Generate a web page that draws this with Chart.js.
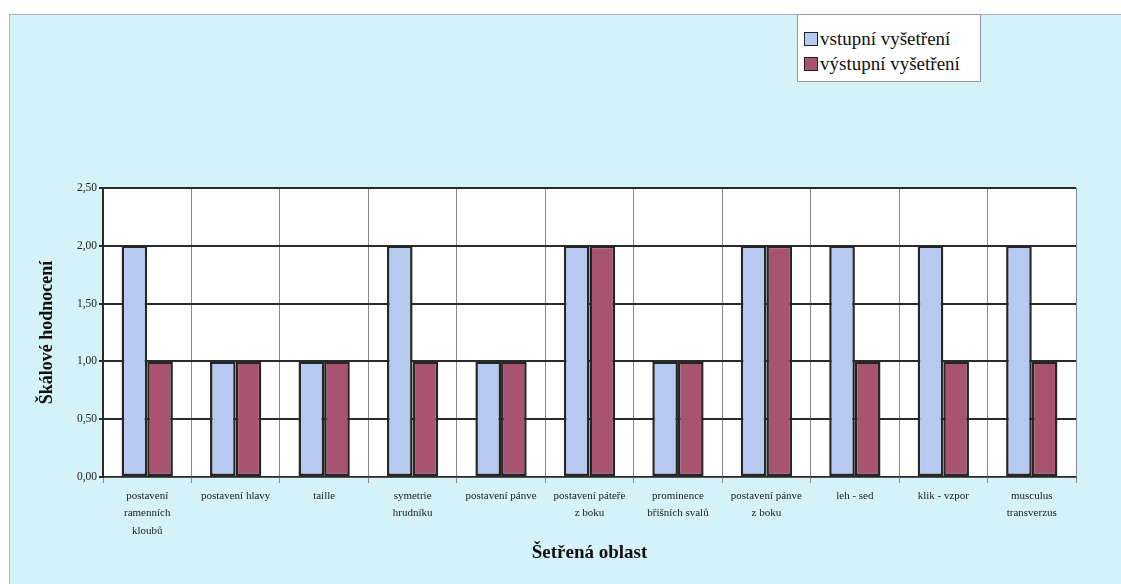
<!DOCTYPE html>
<html lang="cs">

<head>
  <meta charset="UTF-8">
  <title>Škálové hodnocení</title>
  <style>
    body {
      margin: 0;
      background: #fff;
      font-family: "Liberation Serif", serif;
    }

    #frame {
      position: absolute;
      left: 9px;
      top: 14px;
      width: 1112px;
      height: 570px;
      background: #d4f2f8;
      border-top: 1px solid #a9b4b8;
      border-left: 1px solid #a9b4b8;
    }

    #chart-box {
      position: absolute;
      left: 0;
      top: 0;
      width: 1112px;
      height: 570px;
    }

    #legend {
      position: absolute;
      left: 787px;
      top: -1px;
      width: 176px;
      padding: 11px 0 5px 6px;
      background: #fff;
      border: 1px solid #999;
      font-size: 19px;
      color: #111;
    }

    #legend div {
      height: 25px;
      line-height: 25px;
      white-space: nowrap;
    }

    #legend span {
      display: inline-block;
      width: 12px;
      height: 12px;
      border: 1px solid #222;
      margin-right: 2px;
      vertical-align: -1px;
    }
  </style>
</head>

<body>
  <div id="frame">
    <div id="chart-box">
      <canvas id="scoreChart"></canvas>
    </div>
    <div id="legend"></div>
  </div>

  <script src="https://cdn.jsdelivr.net/npm/chart.js@4.4.1/dist/chart.umd.min.js"></script>
  <script>
    const areas = [
      ['postavení', 'ramenních', 'kloubů'],
      'postavení hlavy',
      'taille',
      ['symetrie', 'hrudníku'],
      'postavení pánve',
      ['postavení páteře', 'z boku'],
      ['prominence', 'břišních svalů'],
      ['postavení pánve', 'z boku'],
      'leh - sed',
      'klik - vzpor',
      ['musculus', 'transverzus']
    ];
    const entryScores = [2, 1, 1, 2, 1, 2, 1, 2, 2, 2, 2];
    const exitScores = [1, 1, 1, 1, 1, 2, 1, 2, 1, 1, 1];
    const seriesNames = ['vstupní vyšetření', 'výstupní vyšetření'];
    const yTicks = [0, 0.5, 1, 1.5, 2, 2.5];

    const serif = '"Liberation Serif", "Times New Roman", serif';

    const ctx = document.getElementById('scoreChart').getContext('2d');
    const scoreChart = new Chart(ctx, {
      type: 'bar',
      data: {
        labels: areas,
        datasets: [
          {
            label: seriesNames[0],
            data: entryScores,
            backgroundColor: '#b5c9f1',
            borderColor: '#262626',
            borderWidth: 2.5,
            borderSkipped: false
          },
          {
            label: seriesNames[1],
            data: exitScores,
            backgroundColor: '#a8536f',
            borderColor: '#262626',
            borderWidth: 2.5,
            borderSkipped: false
          }
        ]
      },
      options: {
        responsive: true,
        maintainAspectRatio: false,
        animation: false,
        layout: {
          padding: { top: 173, right: 46, bottom: 19, left: 23 }
        },
        datasets: {
          bar: {
            categoryPercentage: 0.58,
            barPercentage: 1
          }
        },
        plugins: {
          legend: { display: false },
          tooltip: { enabled: false }
        },
        scales: {
          x: {
            offset: true,
            grid: {
              offset: true,
              color: '#8a8a8a',
              lineWidth: 1,
              tickLength: 6,
              drawOnChartArea: true
            },
            border: { color: '#555', width: 1 },
            ticks: {
              color: '#222',
              font: { family: serif, size: 11, lineHeight: 1.55 },
              padding: 5,
              maxRotation: 0,
              autoSkip: false
            },
            title: {
              display: true,
              text: 'Šetřená oblast',
              color: '#111',
              font: { family: serif, size: 19, weight: 'bold' },
              padding: { top: 4, bottom: 2 }
            },
            afterFit(scale) {
              scale.height = 89;
            }
          },
          y: {
            min: 0,
            max: 2.5,
            afterBuildTicks(scale) {
              scale.ticks = yTicks.map(v => ({ value: v }));
            },
            grid: {
              color: '#2a2a2a',
              lineWidth: 2,
              tickLength: 4
            },
            border: { color: '#2a2a2a', width: 2 },
            ticks: {
              color: '#222',
              font: { family: serif, size: 11.5 },
              padding: 2,
              callback: v => v.toFixed(2).replace('.', ',')
            },
            title: {
              display: true,
              text: 'Škálové hodnocení',
              color: '#111',
              font: { family: serif, size: 18, weight: 'bold' },
              padding: { top: 4, bottom: 4 }
            },
            afterFit(scale) {
              scale.width = 70;
            }
          }
        }
      },
      plugins: [{
        // white plot background plus the light right edge of the plot
        id: 'plotBackground',
        beforeDraw(chart) {
          const { ctx, chartArea: a } = chart;
          ctx.save();
          ctx.fillStyle = '#fff';
          ctx.fillRect(a.left, a.top, a.right - a.left, a.bottom - a.top);
          ctx.strokeStyle = '#8a8a8a';
          ctx.lineWidth = 1;
          ctx.beginPath();
          ctx.moveTo(a.right + 0.5, a.top);
          ctx.lineTo(a.right + 0.5, a.bottom);
          ctx.stroke();
          ctx.restore();
        }
      }]
    });

    // legend built from the chart's datasets
    const legend = document.getElementById('legend');
    scoreChart.data.datasets.forEach(ds => {
      const row = document.createElement('div');
      const swatch = document.createElement('span');
      swatch.style.background = ds.backgroundColor;
      row.appendChild(swatch);
      row.appendChild(document.createTextNode(ds.label));
      legend.appendChild(row);
    });
  </script>
</body>

</html>
